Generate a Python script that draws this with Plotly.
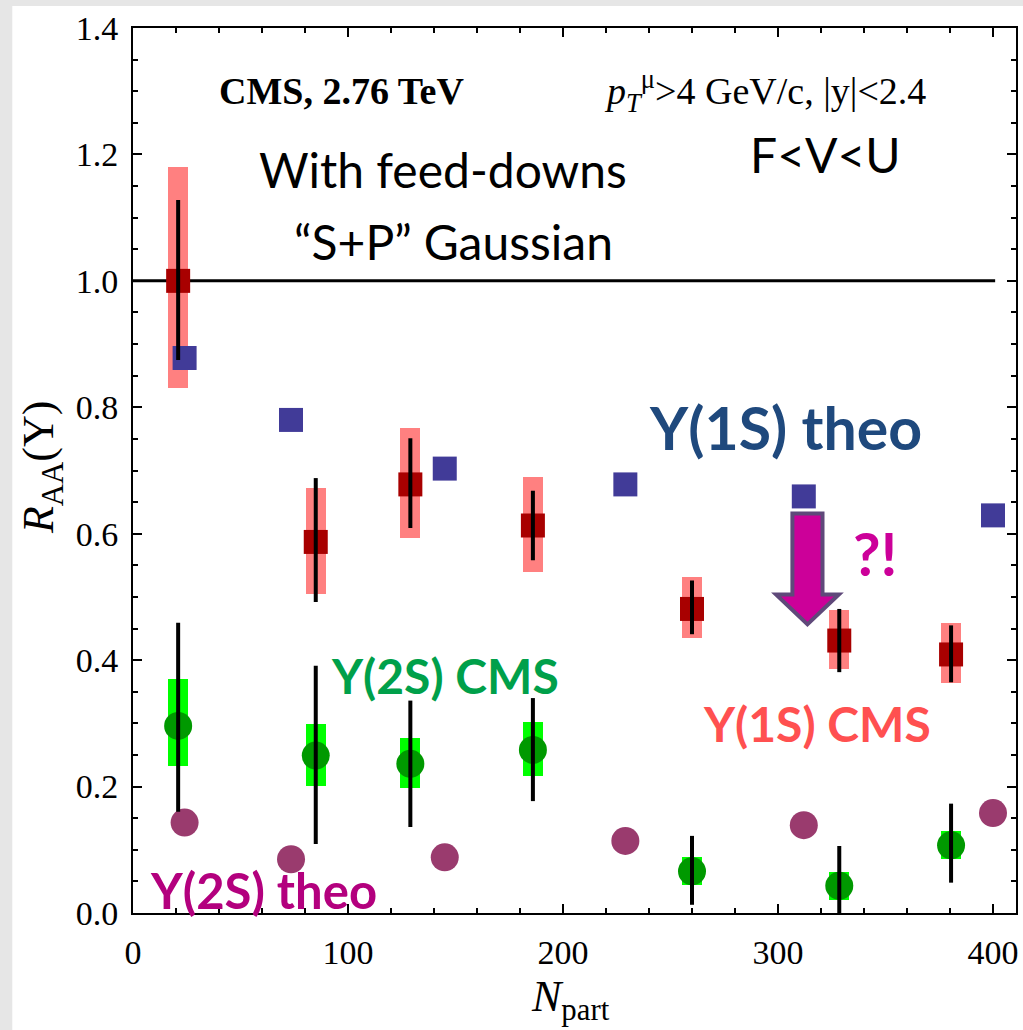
import plotly.graph_objects as go

# ---------------- data ----------------
npart_cms = [21, 85, 129, 186, 260, 328.5, 380.5]
npart_theo = [24, 73.5, 145, 229, 312, 400]

y1s_cms = [1.0, 0.587, 0.678, 0.613, 0.481, 0.431, 0.409]
y1s_err_hi = [1.128, 0.688, 0.751, 0.668, 0.526, 0.481, 0.455]
y1s_err_lo = [0.875, 0.492, 0.609, 0.558, 0.441, 0.381, 0.365]
y1s_sys_hi = [1.18, 0.673, 0.767, 0.689, 0.532, 0.479, 0.458]
y1s_sys_lo = [0.83, 0.505, 0.594, 0.539, 0.435, 0.386, 0.364]

y2s_cms = [0.296, 0.249, 0.236, 0.258, 0.066, 0.043, 0.107]
y2s_err_hi = [0.459, 0.391, 0.336, 0.340, 0.122, 0.106, 0.173]
y2s_err_lo = [0.16, 0.109, 0.136, 0.177, 0.013, 0.0, 0.048]
y2s_sys_hi = [0.370, 0.299, 0.277, 0.302, 0.088, 0.065, 0.130]
y2s_sys_lo = [0.233, 0.201, 0.197, 0.216, 0.044, 0.021, 0.086]

y1s_theo = [0.878, 0.780, 0.703, 0.678, 0.659, 0.629]
y2s_theo = [0.143, 0.085, 0.088, 0.114, 0.139, 0.158]

ref_line_x = [0, 401]
ref_line_y = [1.0, 1.0]

x_ticks = [0, 100, 200, 300, 400]
y_ticks = [0.0, 0.2, 0.4, 0.6, 0.8, 1.0, 1.2, 1.4]

# arrow annotation (data coords)
arrow_x = 313.7
arrow_top = 0.632
arrow_head_base = 0.504
arrow_tip = 0.4566
arrow_shaft_hw = 7.0
arrow_head_hw = 14.6

BOX_W = 9.3

fig = go.Figure()

# systematic boxes
fig.add_trace(go.Bar(
    x=npart_cms, base=y1s_sys_lo,
    y=[h - l for h, l in zip(y1s_sys_hi, y1s_sys_lo)],
    width=BOX_W, marker=dict(color="#FF8080", line=dict(width=0)),
))
fig.add_trace(go.Bar(
    x=npart_cms, base=y2s_sys_lo,
    y=[h - l for h, l in zip(y2s_sys_hi, y2s_sys_lo)],
    width=BOX_W, marker=dict(color="#00FF00", line=dict(width=0)),
))

# reference line
fig.add_trace(go.Scatter(x=ref_line_x, y=ref_line_y, mode="lines",
                         line=dict(color="black", width=3)))

# theory points
fig.add_trace(go.Scatter(x=npart_theo, y=y1s_theo, mode="markers",
                         marker=dict(symbol="square", size=24, color="#413B98")))
fig.add_trace(go.Scatter(x=npart_theo, y=y2s_theo, mode="markers",
                         marker=dict(symbol="circle", size=28, color="#9A3B6E")))

# CMS points
fig.add_trace(go.Scatter(x=npart_cms, y=y1s_cms, mode="markers",
                         marker=dict(symbol="square", size=24, color="#A80000")))
fig.add_trace(go.Scatter(x=npart_cms, y=y2s_cms, mode="markers",
                         marker=dict(symbol="circle", size=28, color="#009900")))

# statistical error bars (drawn on top)
for yv, hi, lo in [(y1s_cms, y1s_err_hi, y1s_err_lo), (y2s_cms, y2s_err_hi, y2s_err_lo)]:
    fig.add_trace(go.Scatter(
        x=npart_cms, y=yv, mode="markers",
        marker=dict(size=1, opacity=0),
        error_y=dict(type="data", symmetric=False,
                     array=[h - v for h, v in zip(hi, yv)],
                     arrayminus=[v - l for v, l in zip(yv, lo)],
                     color="black", thickness=4, width=0),
    ))

tickfont = dict(family="Liberation Serif", size=34, color="black")
axis_common = dict(
    showline=True, linecolor="black", linewidth=2, mirror="allticks",
    ticks="inside", ticklen=9, tickwidth=1.5, tickcolor="black",
    showgrid=False, zeroline=False, tickfont=tickfont,
)
fig.update_xaxes(range=[0, 410.7], tickvals=x_ticks, ticktext=[str(v) for v in x_ticks],
                 minor=dict(dtick=20, ticks="inside", ticklen=5, tickwidth=1.5, tickcolor="black"),
                 ticklabelstandoff=8, **axis_common)
fig.update_yaxes(range=[0, 1.4], tickvals=y_ticks, ticktext=[f"{v:.1f}" for v in y_ticks],
                 minor=dict(dtick=0.05, ticks="inside", ticklen=5, tickwidth=1.5, tickcolor="black"),
                 ticklabelstandoff=6, **axis_common)

# arrow
path = (f"M {arrow_x - arrow_shaft_hw},{arrow_top} L {arrow_x + arrow_shaft_hw},{arrow_top} "
        f"L {arrow_x + arrow_shaft_hw},{arrow_head_base} L {arrow_x + arrow_head_hw},{arrow_head_base} "
        f"L {arrow_x},{arrow_tip} L {arrow_x - arrow_head_hw},{arrow_head_base} "
        f"L {arrow_x - arrow_shaft_hw},{arrow_head_base} Z")
shapes = [
    dict(type="path", path=path, xref="x", yref="y", fillcolor="#CC0099",
         line=dict(color="#5F497A", width=4), layer="above"),
    dict(type="rect", xref="paper", yref="paper", x0=-0.16, x1=-0.1367, y0=-0.14, y1=1.04,
         fillcolor="#E6E6E6", line=dict(width=0), layer="below"),
    dict(type="rect", xref="paper", yref="paper", x0=-0.16, x1=1.01, y0=1.0249, y1=1.04,
         fillcolor="#E6E6E6", line=dict(width=0), layer="below"),
]

serif = "Liberation Serif"
sans = "Lato"
ann = [
    dict(x=97.2, y=1.30, text="<b>CMS, 2.76 TeV</b>", font=dict(family=serif, size=38, color="black")),
    dict(x=293.8, y=1.30, text="<i>p</i><sub><i>T</i></sub><sup>μ</sup>>4 GeV/c, |y|<2.4",
         font=dict(family=serif, size=38, color="black")),
    dict(x=144.3, y=1.1754, text="With feed-downs", font=dict(family=sans, size=48, color="black")),
    dict(x=149.0, y=1.063, text="“S+P” Gaussian", font=dict(family=sans, size=48, color="black")),
    dict(x=322.3, y=1.20, text="F<V<U", font=dict(family=sans, size=48, color="black")),
    dict(x=303.7, y=0.7688, text="<b>Y(1S) theo</b>", font=dict(family=sans, size=59, color="#1F497D")),
    dict(x=145.3, y=0.3765, text="<b>Y(2S) CMS</b>", font=dict(family=sans, size=48, color="#00A04A")),
    dict(x=318.1, y=0.299, text="<b>Y(1S) CMS</b>", font=dict(family=sans, size=48, color="#FF5050")),
    dict(x=60.6, y=0.0364, text="<b>Y(2S) theo</b>", font=dict(family=sans, size=49, color="#B3007E")),
    dict(x=345.0, y=0.5695, text="<b>?!</b>", font=dict(family=sans, size=60, color="#CC0099")),
]
for a in ann:
    a.update(xref="x", yref="y", showarrow=False, xanchor="center", yanchor="middle")

# axis titles
ann.append(dict(xref="paper", yref="paper", x=-0.1028, y=0.503, textangle=-90,
                text="<i>R</i><sub>AA</sub>(Υ)", showarrow=False,
                font=dict(family=serif, size=44, color="black"),
                xanchor="center", yanchor="middle"))
ann.append(dict(xref="paper", yref="paper", x=0.496, y=-0.098,
                text="<i>N</i><sub>part</sub>", showarrow=False,
                font=dict(family=serif, size=44, color="black"),
                xanchor="center", yanchor="middle"))

fig.update_layout(
    width=1023, height=1030,
    margin=dict(l=133, r=5, t=28, b=117),
    paper_bgcolor="white", plot_bgcolor="white",
    showlegend=False, barmode="overlay", bargap=0,
    shapes=shapes, annotations=ann,
    hovermode=False,
)

fig.write_html("out.html", config={"displayModeBar": False},
               post_script="document.body.style.margin='0px';")
